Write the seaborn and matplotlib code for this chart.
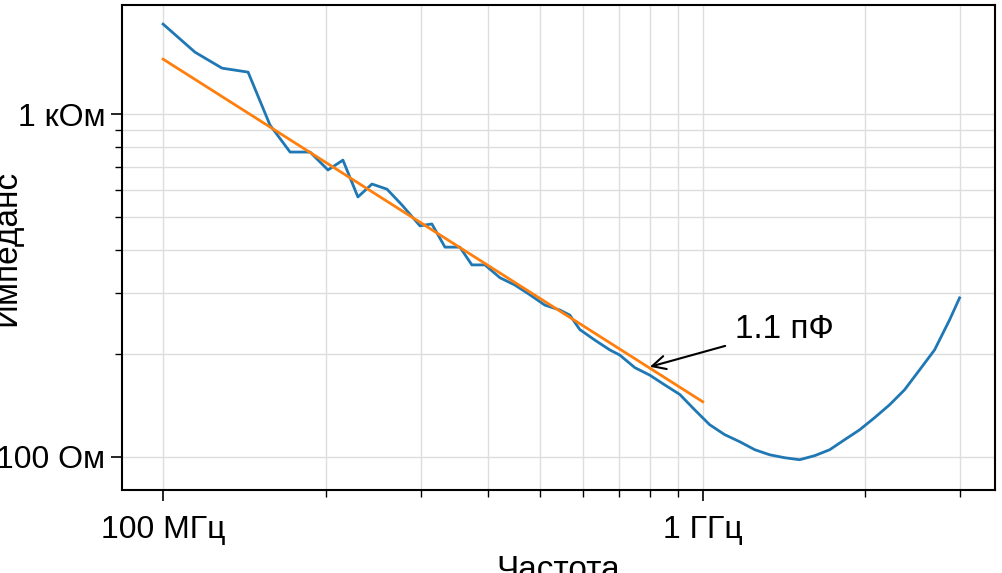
import numpy as np
import pandas as pd
import matplotlib
matplotlib.use('Agg')
import matplotlib.pyplot as plt
import seaborn as sns
from matplotlib.ticker import FixedLocator, NullFormatter

plt.rcParams['font.family'] = 'Liberation Sans'

# measured impedance (MHz, Ohm)
freq_mhz = [100, 114.6, 128.6, 143.7, 157.8, 171.9, 187.2, 202.1, 215.4, 229.6,
            243.8, 259.9, 277.1, 299.2, 314.8, 332.9, 354.8, 373.4, 394.8, 420.9,
            448.7, 478.2, 509.9, 543.6, 567.2, 591.9, 631.0, 672.6, 702.0, 748.4,
            797.8, 850.5, 906.6, 966.5, 1030, 1098, 1171, 1249, 1331, 1419,
            1512, 1612, 1719, 1832, 1953, 2082, 2220, 2366, 2523, 2689, 2867, 2992]
impedance = [1831, 1516, 1362, 1326, 929, 775, 775, 687, 734, 573,
             625, 604, 543, 472, 478, 409, 409, 363, 363, 333,
             317, 297, 277, 268, 259, 235, 219, 205, 198, 182,
             173, 162, 152, 137, 124, 116, 110.6, 104.8, 101.3, 99.3,
             98.0, 100.7, 104.8, 112.1, 119.8, 130.0, 141.8, 156.8, 179.3, 205, 250.8, 290.8]

# 1.1 pF capacitor fit
fit_freq_mhz = [100, 1000]
fit_impedance = [1447, 144.7]

df = pd.DataFrame({'f': np.array(freq_mhz) * 1e6, 'z': impedance})
fit = pd.DataFrame({'f': np.array(fit_freq_mhz) * 1e6, 'z': fit_impedance})

fig = plt.figure(figsize=(10.02, 5.73), dpi=100)
ax = fig.add_axes([0.122, 0.145, 0.871, 0.846])
ax.set_xscale('log')
ax.set_yscale('log')

sns.lineplot(data=df, x='f', y='z', ax=ax, color='#1f77b4', lw=2)
sns.lineplot(data=fit, x='f', y='z', ax=ax, color='#ff7f0e', lw=2)

ax.set_xlim(8.4e7, 3.48e9)
ax.set_ylim(80, 2080)

ax.xaxis.set_major_locator(FixedLocator([1e8, 1e9]))
ax.set_xticklabels(['100 МГц', '1 ГГц'])
ax.xaxis.set_minor_locator(FixedLocator([2e8, 3e8, 4e8, 5e8, 6e8, 7e8, 8e8, 9e8, 2e9, 3e9]))
ax.xaxis.set_minor_formatter(NullFormatter())
ax.yaxis.set_major_locator(FixedLocator([100, 1000]))
ax.set_yticklabels(['100 Ом', '1 кОм'])
ax.yaxis.set_minor_locator(FixedLocator([200, 300, 400, 500, 600, 700, 800, 900]))
ax.yaxis.set_minor_formatter(NullFormatter())

ax.grid(which='both', color='#dddddd', lw=1)
ax.set_axisbelow(True)
ax.tick_params(which='major', labelsize=23, length=8, width=1.2, pad=4)
ax.tick_params(axis='x', which='major', pad=10)
ax.tick_params(which='minor', length=5, width=1)
for s in ax.spines.values():
    s.set_color('black')
    s.set_linewidth(1.5)

ax.set_xlabel('Частота', fontsize=24)
ax.xaxis.set_label_coords(0.5, -0.135)
ax.set_ylabel('Импеданс', fontsize=24)
ax.yaxis.set_label_coords(-0.115, 0.5)

ax.annotate('1.1 пФ', xy=(7.98e8, 183), xytext=(1.146e9, 235),
            fontsize=24, va='center', ha='left',
            arrowprops=dict(arrowstyle='->', color='black', lw=1.5, shrinkA=5, shrinkB=0))

fig.savefig('out.png', dpi=100)
